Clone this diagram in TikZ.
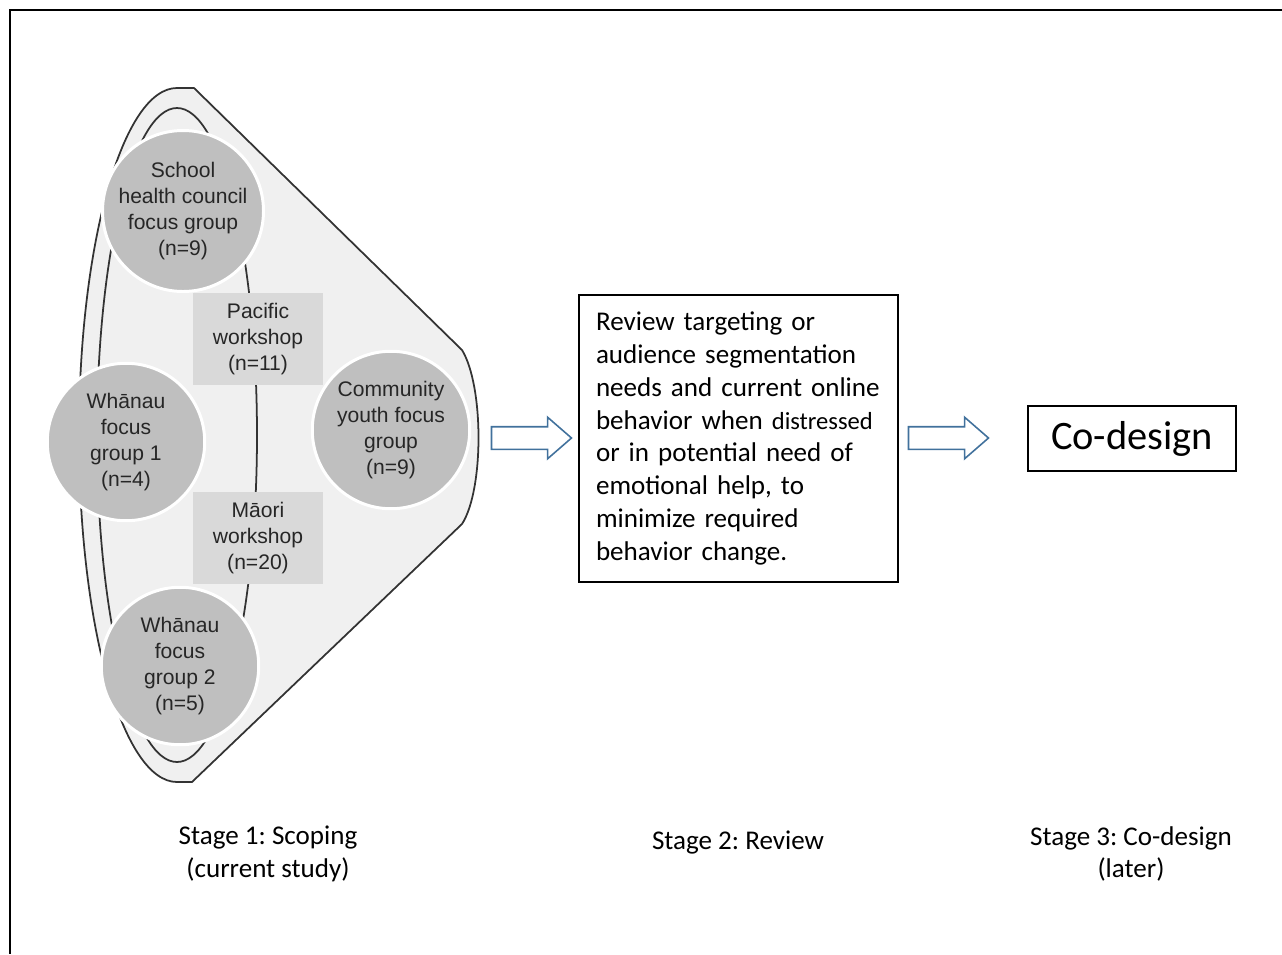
\documentclass[tikz,border=0pt]{standalone}
\usepackage{fontspec}
\setmainfont{Carlito}
\newfontfamily\arialfont{Liberation Sans}
\usetikzlibrary{shapes.arrows,positioning}
\definecolor{fangray}{HTML}{F0F0F0}
\definecolor{grpgray}{HTML}{BFBFBF}
\definecolor{wsgray}{HTML}{D9D9D9}
\definecolor{arrowblue}{HTML}{41719C}
\frenchspacing

\begin{document}
\begin{tikzpicture}[x=0.02cm,y=-0.02cm,
  group/.style={circle,fill=grpgray,draw=white,line width=1.7pt,minimum size=3.15cm,inner sep=0pt,
    align=center,text=black!85,font=\arialfont\fontsize{12}{14.7}\selectfont},
  wshop/.style={rectangle,fill=wsgray,minimum width=2.6cm,minimum height=1.86cm,inner sep=0pt,
    align=center,text=black!85,font=\arialfont\fontsize{12}{14.7}\selectfont},
  stage/.style={align=center,font=\fontsize{15.4}{18.7}\selectfont},
  blockarrow/.style={single arrow,draw=arrowblue,fill=white,line width=0.9pt,minimum height=1.6cm,
    inner xsep=0pt,inner ysep=0.21cm,single arrow head extend=0.19cm,single arrow tip angle=82},
  fanline/.style={draw=black!80,line width=1pt}]
  \useasboundingbox (0,0) rectangle (1282,954);
  % frame
  \draw[line width=1.2pt] (1282,10) -- (10,10) -- (10,954);

  % stage 1: the fan
  \path[fanline,fill=fangray] (177,88) .. controls (123,88) and (79,243) .. (79,435)
    .. controls (79,627) and (123,782) .. (177,782) -- (192,782) -- (462,524)
    .. controls (484,490) and (484,386) .. (462,350) -- (194,88) -- cycle;
  \draw[fanline] (177,435) ellipse [x radius=80, y radius=327];
  \coordinate (fantip) at (478,438);

  \node[group] (school) at (183,211) {School\\health council\\focus group\\(n=9)};
  \node[group] (whanau1) at (126,442) {Whānau\\focus\\group 1\\(n=4)};
  \node[group] (community) at (391,430) {Community\\youth focus\\group\\(n=9)};
  \node[group] (whanau2) at (180,666) {Whānau\\focus\\group 2\\(n=5)};
  \node[wshop] (pacific) at (258,339) {Pacific\\workshop\\(n=11)};
  \node[wshop] (maori) at (258,538) {Māori\\workshop\\(n=20)};

  % stage 2 and 3
  \node[draw,line width=1pt,text width=5.7cm,minimum height=5.66cm,inner sep=0.34cm,align=left,
    font=\fontsize{15.4}{18.7}\selectfont] (review) at (738.5,438.5)
    {Review targeting or\\audience segmentation\\needs and current online\\behavior when
     {\fontsize{14}{18.7}\selectfont distressed}\\or in potential need of\\emotional help, to\\
     minimize required\\behavior change.};
  \node[draw,line width=1pt,minimum width=4.16cm,minimum height=1.3cm,
    font=\fontsize{23}{27}\selectfont] (codesign) at (1132,438.5) {Co-design};

  \node[blockarrow] (arrow1) at (525,438) {};
  \node[blockarrow] (arrow2) at (942,438) {};

  \node[stage] (stage1) at (268,854) {Stage 1: Scoping\\(current study)};
  \node[stage] (stage2) at (738,843) {Stage 2: Review};
  \node[stage] (stage3) at (1131,854) {Stage 3: Co-design\\(later)};
\end{tikzpicture}
\end{document}
